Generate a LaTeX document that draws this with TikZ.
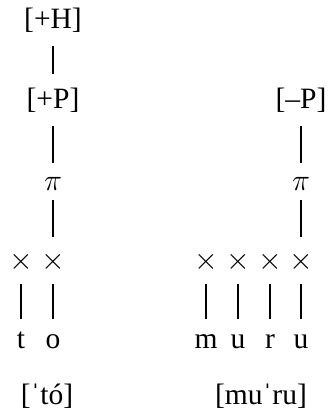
\documentclass[tikz,border=0pt]{standalone}
\usepackage{fontspec}
\setmainfont{Liberation Serif}
\begin{document}
\begin{tikzpicture}[x=0.2mm, y=-0.2mm,
    font=\fontsize{16.8}{20}\selectfont,
    feat/.style={anchor=base, inner sep=0pt, text height=6.8mm, text depth=3.4mm},
    tier/.style={anchor=base, inner sep=0pt, text height=5.4mm, text depth=2mm},
    slot/.style={anchor=base, inner sep=0pt, text height=6.4mm, text depth=2.8mm},
    seg/.style={anchor=base, inner sep=0pt, text height=5.8mm, text depth=0pt},
    stem/.style={line width=0.4mm}]
        \useasboundingbox (0,0) rectangle (329,410);

        % Forma izquierda
        \node[feat] (hL) at (53,28.5) {[+H]};
        \node[feat] (pL) at (53,108.5) {[+P]};
        \node[tier] (piL) at (53,190) {$\pi$};
        \node[slot] (xL1) at (21,269.5) {$\times$};
        \node[slot] (xL2) at (53,269.5) {$\times$};
        \node[seg] (sL1) at (21,348) {t};
        \node[seg] (sL2) at (53,348) {o};
        \draw[stem] (hL) -- (pL) (pL) -- (piL) (piL) -- (xL2);
        \draw[stem] (xL1) -- (sL1) (xL2) -- (sL2);

        % Forma derecha
        \node[feat] (pR) at (301,108.5) {[–P]};
        \node[tier] (piR) at (301,190) {$\pi$};
        \foreach \s/\x [count=\i] in {m/206,u/238,r/270,u/301} {
            \node[slot] (xR\i) at (\x,269.5) {$\times$};
            \node[seg] (sR\i) at (\x,348) {\s};
            \draw[stem] (xR\i) -- (sR\i);
        }
        \draw[stem] (pR) -- (piR) (piR) -- (xR4);

        % Transcripciones
        \node[anchor=base] (tL) at (47,404) {[ˈtó]};
        \node[anchor=base] (tR) at (261,404) {[muˈru]};

    \end{tikzpicture}
\end{document}
